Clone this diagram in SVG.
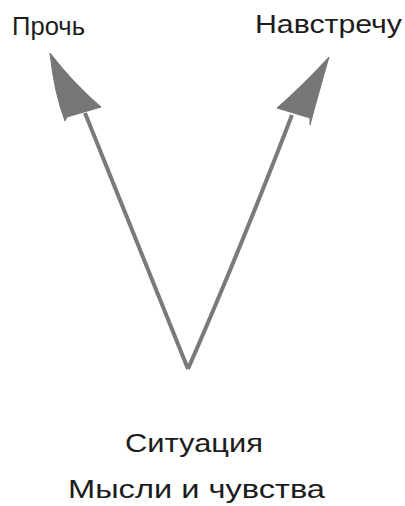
<svg xmlns="http://www.w3.org/2000/svg" width="405" height="506" viewBox="0 0 405 506">
<style>
.lbl{font-family:"Liberation Sans","DejaVu Sans",sans-serif;font-size:26px;fill:#1c1c1c}
.shaft{fill:none;stroke:#7a7a7a;stroke-width:4;stroke-linecap:butt}
.head{fill:#767676;stroke:#767676;stroke-width:1;stroke-linejoin:round}
</style>
<rect width="405" height="506" fill="#ffffff"/>
<g id="connectors">
<path class="shaft" d="M188,369 Q140,250 85,113"/>
<path class="head" d="M50,53 Q54,92 65,121 L67,117 L101,107 Q74,84 50,53 Z"/>
<path class="shaft" d="M188,369 Q240,250 292,115"/>
<path class="head" d="M329,57 Q302,86 277,108 L310,118 L310,125 Q318,95 329,57 Z"/>
</g>
<g id="node-away"><text class="lbl" x="12" y="35" textLength="73" lengthAdjust="spacingAndGlyphs">Прочь</text></g>
<g id="node-toward"><text class="lbl" x="255" y="33" textLength="147" lengthAdjust="spacingAndGlyphs">Навстречу</text></g>
<g id="node-situation"><text class="lbl" x="125" y="452" textLength="138" lengthAdjust="spacingAndGlyphs">Ситуация</text></g>
<g id="node-thoughts"><text class="lbl" x="68" y="498" textLength="257" lengthAdjust="spacingAndGlyphs">Мысли и чувства</text></g>
</svg>
